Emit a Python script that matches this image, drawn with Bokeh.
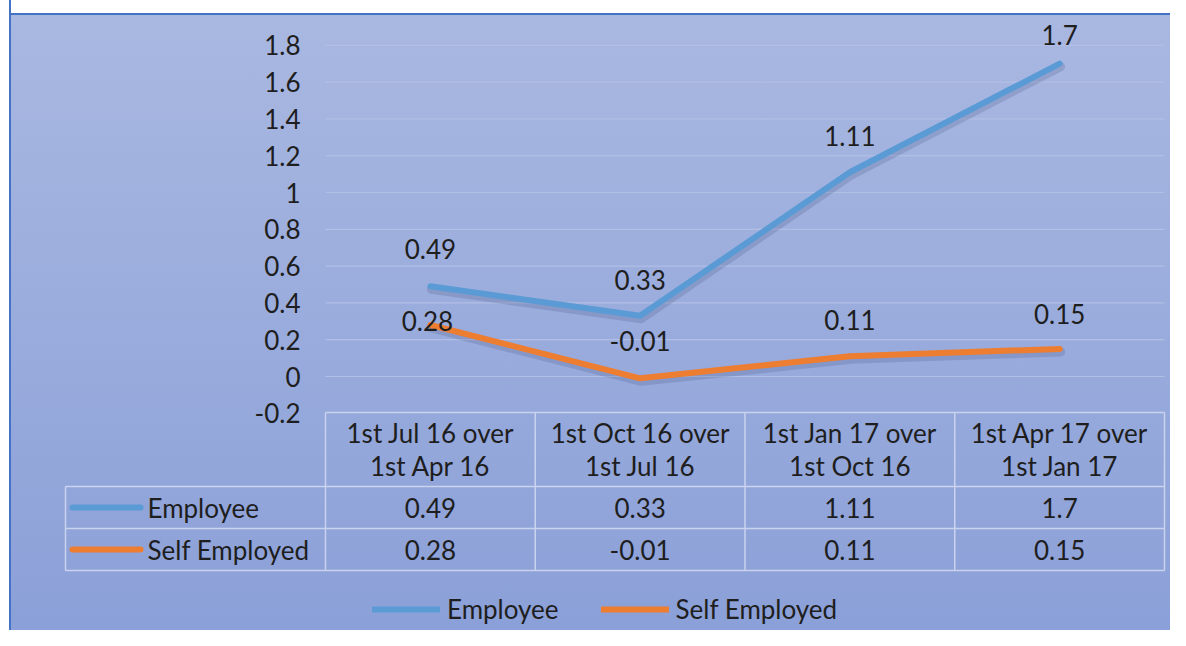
from bokeh.plotting import figure
from bokeh.models import FixedTicker, Range1d, Legend, LegendItem
from bokeh.core.properties import value
from bokeh.embed import file_html
from bokeh.resources import INLINE

# ---------------- data ----------------
categories = ["1st Jul 16 over\n1st Apr 16", "1st Oct 16 over\n1st Jul 16",
              "1st Jan 17 over\n1st Oct 16", "1st Apr 17 over\n1st Jan 17"]
employee = [0.49, 0.33, 1.11, 1.7]
self_employed = [0.28, -0.01, 0.11, 0.15]
series_names = ["Employee", "Self Employed"]
y_ticks = [-0.2, 0.0, 0.2, 0.4, 0.6, 0.8, 1.0, 1.2, 1.4, 1.6, 1.8]
y_tick_labels = ["-0.2", "0", "0.2", "0.4", "0.6", "0.8", "1", "1.2", "1.4", "1.6", "1.8"]

# ---------------- style ----------------
FONT = value("Lato")
FS = "26px"
TXT = "#1E1E1E"
BLUE = "#5B9BD5"
ORANGE = "#ED7D31"
TABLE_LINE = "#CAD3EE"
GRID_LINE = "#B2BFE5"

W, H = 1170, 630
LEFT_PX = 56           # frame left (= min_border_left)
COL_W = 209.75         # px per category
COL0_PX = 325          # px of left edge of first category column
ZERO_PX = 376          # px of y = 0
PX_PER_Y = 184.0

def xd(px):
    return -0.5 + (px - COL0_PX) / COL_W

def yd(px):
    return (ZERO_PX - px) / PX_PER_Y

n = len(categories)
xs = list(range(n))

p = figure(width=W, height=H, output_backend="svg", toolbar_location=None,
           x_axis_location=None,
           x_range=Range1d(xd(LEFT_PX), xd(W)),
           y_range=Range1d(yd(H), yd(0)),
           min_border_left=LEFT_PX, min_border_right=0,
           min_border_top=0, min_border_bottom=0)
p.background_fill_color = None
p.border_fill_color = None
p.outline_line_color = None
p.grid.visible = False
p.styles = {
    "background": ("linear-gradient(to right, #ffffff 0px, #ffffff 9px, #4472C4 9px, #4472C4 11px, transparent 11px), "
                   "linear-gradient(to bottom, #ffffff 0px, #ffffff 13px, #4472C4 13px, #4472C4 15px, #A9B8E1 15px, #8BA0D8 100%)")
}

# y axis
ax = p.yaxis[0]
ax.ticker = FixedTicker(ticks=y_ticks)
ax.major_label_overrides = {t: l for t, l in zip(y_ticks, y_tick_labels)}
ax.fixed_location = xd(305)
ax.axis_line_color = None
ax.major_tick_line_color = None
ax.minor_tick_line_color = None
ax.major_tick_out = 0
ax.major_tick_in = 0
ax.major_label_standoff = 5
ax.major_label_text_font = "Lato"
ax.major_label_text_font_size = FS
ax.major_label_text_color = TXT

# gridlines (only over the plot columns)
g = y_ticks[1:]
p.segment(x0=[-0.5] * len(g), x1=[n - 0.5] * len(g), y0=g, y1=g,
          line_color=GRID_LINE, line_width=1.2)

# shadows
sh_dy = 3 / PX_PER_Y
sh_dx = 1 / COL_W
for vals in (employee, self_employed):
    p.line([x + sh_dx for x in xs], [v - sh_dy for v in vals], line_color="#3A4A7A",
           line_alpha=0.2, line_width=9, line_join="round", line_cap="round")

r_emp = p.line(xs, employee, line_color=BLUE, line_width=6, line_join="round", line_cap="round")
r_self = p.line(xs, self_employed, line_color=ORANGE, line_width=6, line_join="round", line_cap="round")

# data labels
emp_dy = [-37, -36, -36, -29]
self_dy = [-4, -37, -36, -35]
self_dx = [-3, 0, 0, 0]
p.text(x=xs, y=employee, text=[str(v) for v in employee], y_offset=emp_dy,
       text_align="center", text_baseline="middle", text_font=FONT,
       text_font_size=FS, text_color=TXT)
p.text(x=xs, y=self_employed, text=[str(v) for v in self_employed], y_offset=self_dy,
       x_offset=self_dx, text_align="center", text_baseline="middle", text_font=FONT,
       text_font_size=FS, text_color=TXT)

# ---------------- data table ----------------
t_top, t_h1, t_h2, t_bot = yd(412), yd(486), yd(528), yd(570)
t_left = xd(65)
bounds = [i - 0.5 for i in range(n + 1)]
hx0 = [bounds[0], t_left, t_left, t_left]
hx1 = [bounds[-1]] * 4
hy = [t_top, t_h1, t_h2, t_bot]
p.segment(x0=hx0, x1=hx1, y0=hy, y1=hy, line_color=TABLE_LINE, line_width=1.5)
vx = [t_left] + bounds
vy0 = [t_h1] + [t_top] * len(bounds)
p.segment(x0=vx, x1=vx, y0=vy0, y1=[t_bot] * len(vx), line_color=TABLE_LINE, line_width=1.5)

# header (two lines per category)
head1 = [c.split("\n")[0] for c in categories]
head2 = [c.split("\n")[1] for c in categories]
p.text(x=xs, y=[yd(432)] * n, text=head1, text_align="center",
       text_baseline="middle", text_font=FONT, text_font_size=FS, text_color=TXT)
p.text(x=xs, y=[yd(465)] * n, text=head2, text_align="center",
       text_baseline="middle", text_font=FONT, text_font_size=FS, text_color=TXT)
# rows
row_y = [(t_h1 + t_h2) / 2, (t_h2 + t_bot) / 2]
for vals, ry in zip((employee, self_employed), row_y):
    p.text(x=xs, y=[ry] * n, text=[str(v) for v in vals], text_align="center",
           text_baseline="middle", text_font=FONT, text_font_size=FS, text_color=TXT)
p.segment(x0=[xd(72)] * 2, x1=[xd(140)] * 2, y0=row_y, y1=row_y,
          line_color=[BLUE, ORANGE], line_width=6, line_cap="round")
p.text(x=[xd(147)] * 2, y=row_y, text=series_names, text_align="left",
       text_baseline="middle", text_font=FONT, text_font_size=FS, text_color=TXT)

# ---------------- legend ----------------
legend = Legend(items=[LegendItem(label=series_names[0], renderers=[r_emp]),
                       LegendItem(label=series_names[1], renderers=[r_self])],
                orientation="horizontal", location=(372 - LEFT_PX, H - 610 - 15),
                glyph_width=68, glyph_height=30, label_height=30, label_standoff=7,
                spacing=42, padding=0, margin=0, border_line_color=None,
                background_fill_alpha=0, label_text_font="Lato",
                label_text_font_size=FS, label_text_color=TXT,
                label_text_baseline="middle")
p.add_layout(legend)

open("out.html", "w").write(file_html(p, INLINE))
